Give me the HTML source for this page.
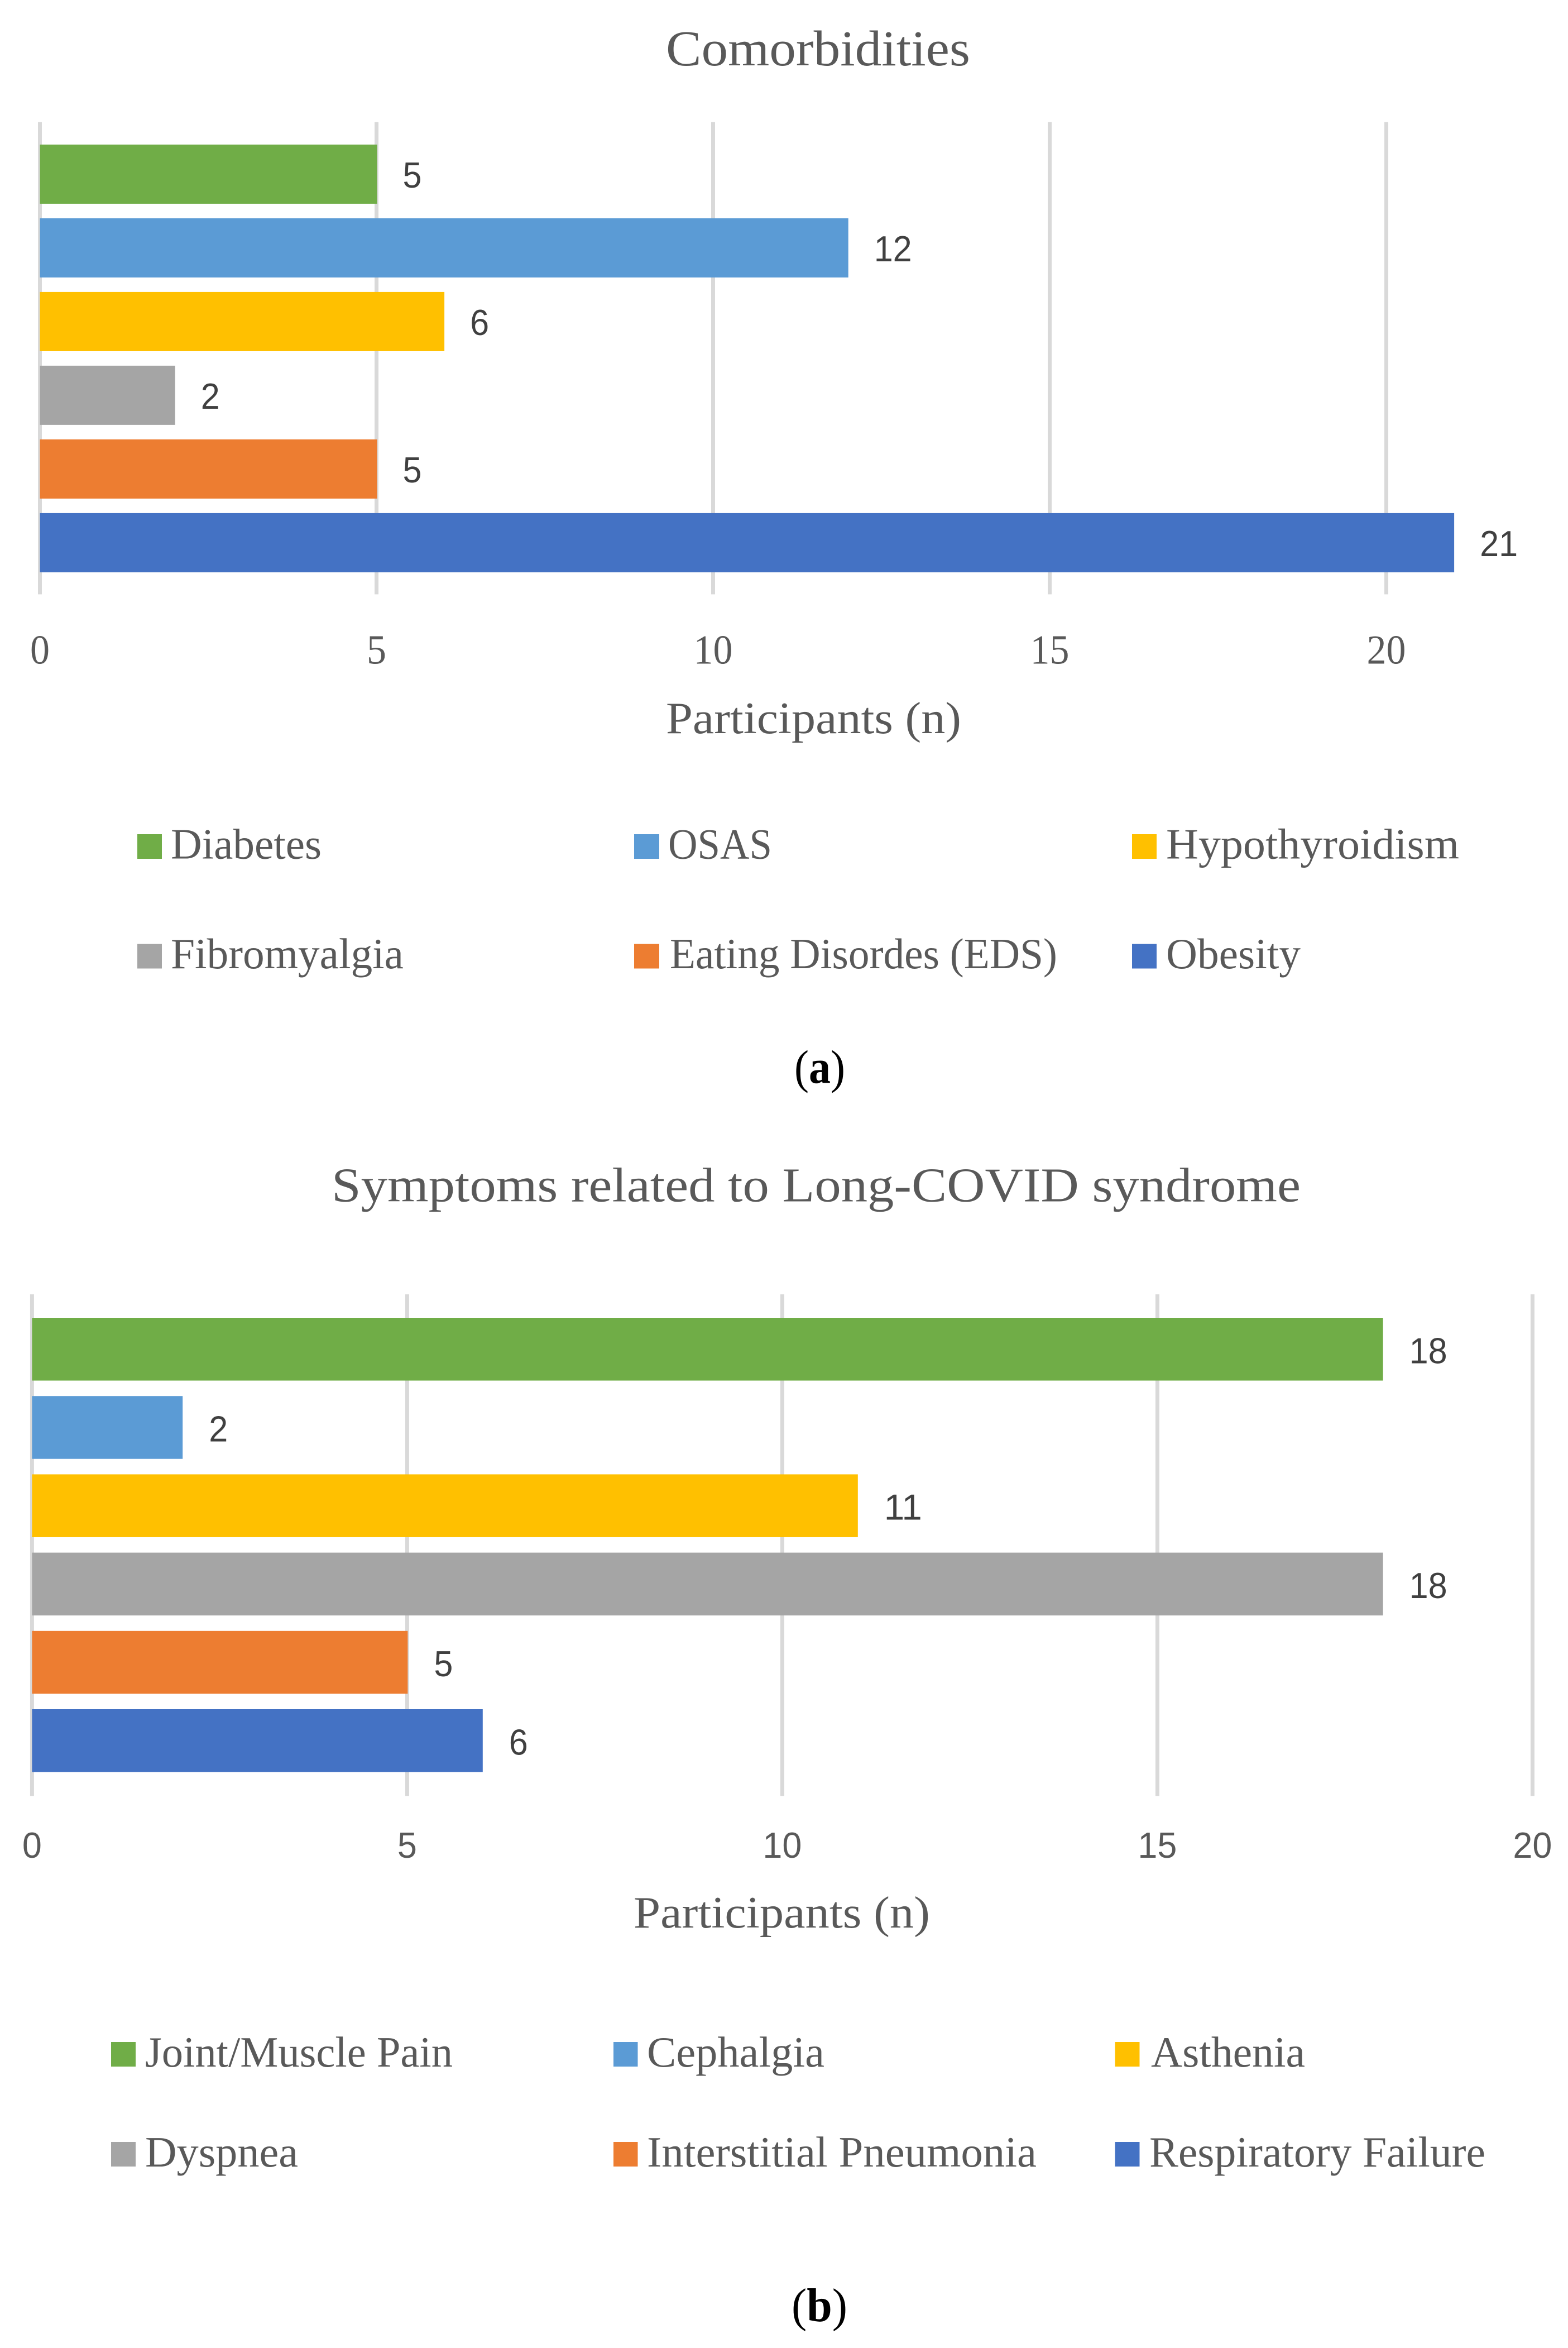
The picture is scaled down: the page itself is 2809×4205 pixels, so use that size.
<!DOCTYPE html>
<html lang="en">
<head>
<meta charset="utf-8">
<title>Comorbidities and Long-COVID symptoms</title>
<style>
html,body{margin:0;padding:0;background:#fff;}
svg{display:block;}
.serif{font-family:"Liberation Serif",serif;fill:#595959;}
.sans{font-family:"Liberation Sans",sans-serif;}
.chart-title-a{font-size:90px;}
.chart-title-b{font-size:87px;}
.axis-title{font-size:81px;}
.legend-text{font-size:77px;}
.caption{font-family:"Liberation Serif",serif;font-size:85px;fill:#000;}
</style>
</head>
<body>
<svg id="figure" xmlns="http://www.w3.org/2000/svg" width="2809" height="4205" viewBox="0 0 2809 4205">
  <rect x="0" y="0" width="2809" height="4205" fill="#ffffff"/>

  <g id="chart-a">
    <text class="serif chart-title-a" x="1193" y="117" textLength="545" lengthAdjust="spacingAndGlyphs">Comorbidities</text>
    <text class="serif axis-title" x="1193" y="1313" textLength="529" lengthAdjust="spacingAndGlyphs">Participants (n)</text>

    <g>
      <g>
        <rect x="246" y="1494" width="44" height="44" fill="#70AD47"/>
        <text class="serif legend-text" x="306" y="1537.5" textLength="270" lengthAdjust="spacingAndGlyphs">Diabetes</text>
      </g>
      <g>
        <rect x="1136" y="1494" width="45" height="44" fill="#5B9BD5"/>
        <text class="serif legend-text" x="1197" y="1537.5" textLength="186" lengthAdjust="spacingAndGlyphs">OSAS</text>
      </g>
      <g>
        <rect x="2028" y="1494" width="44" height="44" fill="#FFC000"/>
        <text class="serif legend-text" x="2089" y="1537.5" textLength="525" lengthAdjust="spacingAndGlyphs">Hypothyroidism</text>
      </g>
      <g>
        <rect x="246" y="1690.5" width="44" height="44" fill="#A5A5A5"/>
        <text class="serif legend-text" x="306" y="1734" textLength="417" lengthAdjust="spacingAndGlyphs">Fibromyalgia</text>
      </g>
      <g>
        <rect x="1136" y="1690.5" width="45" height="44" fill="#ED7D31"/>
        <text class="serif legend-text" x="1200" y="1734" textLength="694" lengthAdjust="spacingAndGlyphs">Eating Disordes (EDS)</text>
      </g>
      <g>
        <rect x="2028" y="1690.5" width="44" height="44" fill="#4472C4"/>
        <text class="serif legend-text" x="2089" y="1734" textLength="241" lengthAdjust="spacingAndGlyphs">Obesity</text>
      </g>
    </g>

    <text class="caption" x="1423" y="1939.5" textLength="91" lengthAdjust="spacingAndGlyphs">(<tspan font-weight="bold">a</tspan>)</text>
  </g>

  <g id="chart-b">
    <text class="serif chart-title-b" x="594" y="2151.5" textLength="1736" lengthAdjust="spacingAndGlyphs">Symptoms related to Long-COVID syndrome</text>
    <text class="serif axis-title" x="1135" y="3452" textLength="531" lengthAdjust="spacingAndGlyphs">Participants (n)</text>

    <g>
      <g>
        <rect x="199" y="3657" width="44" height="44" fill="#70AD47"/>
        <text class="serif legend-text" x="260" y="3701" textLength="551" lengthAdjust="spacingAndGlyphs">Joint/Muscle Pain</text>
      </g>
      <g>
        <rect x="1099" y="3657" width="43.5" height="44" fill="#5B9BD5"/>
        <text class="serif legend-text" x="1159" y="3701" textLength="318" lengthAdjust="spacingAndGlyphs">Cephalgia</text>
      </g>
      <g>
        <rect x="1997.5" y="3657" width="44" height="44" fill="#FFC000"/>
        <text class="serif legend-text" x="2062" y="3701" textLength="276" lengthAdjust="spacingAndGlyphs">Asthenia</text>
      </g>
      <g>
        <rect x="199" y="3836" width="44" height="44" fill="#A5A5A5"/>
        <text class="serif legend-text" x="260" y="3880" textLength="274" lengthAdjust="spacingAndGlyphs">Dyspnea</text>
      </g>
      <g>
        <rect x="1099" y="3836" width="43.5" height="44" fill="#ED7D31"/>
        <text class="serif legend-text" x="1159" y="3880" textLength="698" lengthAdjust="spacingAndGlyphs">Interstitial Pneumonia</text>
      </g>
      <g>
        <rect x="1997.5" y="3836" width="44" height="44" fill="#4472C4"/>
        <text class="serif legend-text" x="2059" y="3880" textLength="602" lengthAdjust="spacingAndGlyphs">Respiratory Failure</text>
      </g>
    </g>

    <text class="caption" x="1418" y="4157" textLength="100" lengthAdjust="spacingAndGlyphs">(<tspan font-weight="bold">b</tspan>)</text>
  </g>
</svg>

<script>
// Chart data (top-to-bottom bar order)
const comorbidityCategories = ["Diabetes", "OSAS", "Hypothyroidism", "Fibromyalgia", "Eating Disordes (EDS)", "Obesity"];
const comorbidityValues = [5, 12, 6, 2, 5, 21];
const comorbidityTicks = [0, 5, 10, 15, 20];

const symptomCategories = ["Joint/Muscle Pain", "Cephalgia", "Asthenia", "Dyspnea", "Interstitial Pneumonia", "Respiratory Failure"];
const symptomValues = [18, 2, 11, 18, 5, 6];
const symptomTicks = [0, 5, 10, 15, 20];

const seriesColors = ["#70AD47", "#5B9BD5", "#FFC000", "#A5A5A5", "#ED7D31", "#4472C4"];

const SVG_NS = "http://www.w3.org/2000/svg";

function linearAxis(origin, pixelsPerUnit) {
  return function (value) { return origin + value * pixelsPerUnit; };
}
function bandAxis(firstTop, pitch) {
  return function (index) { return firstTop + index * pitch; };
}

function drawChart(parentId, categories, values, ticks, layout) {
  const parent = document.getElementById(parentId);
  const x = linearAxis(layout.originX, layout.unit);
  const y = bandAxis(layout.firstBarTop, layout.barPitch);

  const gridGroup = document.createElementNS(SVG_NS, "g");
  
  
  parent.appendChild(gridGroup);

  const tickGroup = document.createElementNS(SVG_NS, "g");
  
  
  parent.appendChild(tickGroup);

  ticks.forEach(function (tick) {
    const line = document.createElementNS(SVG_NS, "rect");
    
    
    line.setAttribute("x", x(tick) - 3.5);
    line.setAttribute("y", layout.gridTop);
    line.setAttribute("width", 7);
    line.setAttribute("height", layout.gridBottom - layout.gridTop);
    line.setAttribute("fill", "#D9D9D9");
    gridGroup.appendChild(line);

    const label = document.createElementNS(SVG_NS, "text");
    
    
    label.setAttribute("x", x(tick));
    label.setAttribute("y", layout.tickBaseline);
    label.setAttribute("text-anchor", "middle");
    label.setAttribute("font-family", layout.tickFont);
    label.setAttribute("font-size", layout.tickSize);
    label.setAttribute("fill", "#595959");
    label.setAttribute("textLength", String(tick).length * layout.tickCharWidth);
    label.setAttribute("lengthAdjust", "spacingAndGlyphs");
    label.textContent = String(tick);
    tickGroup.appendChild(label);
  });

  const barGroup = document.createElementNS(SVG_NS, "g");
  
  
  parent.appendChild(barGroup);

  values.forEach(function (value, i) {
    const bar = document.createElementNS(SVG_NS, "rect");
    
    
    bar.setAttribute("data-category", categories[i]);
    bar.setAttribute("x", x(0));
    bar.setAttribute("y", y(i));
    bar.setAttribute("width", x(value) - x(0) + 1);
    bar.setAttribute("height", layout.barHeight);
    bar.setAttribute("fill", seriesColors[i]);
    barGroup.appendChild(bar);

    const valueLabel = document.createElementNS(SVG_NS, "text");
    
    
    valueLabel.setAttribute("x", x(value) + layout.labelGap);
    valueLabel.setAttribute("y", y(i) + layout.barHeight / 2 + layout.labelDrop);
    valueLabel.setAttribute("font-family", "'Liberation Sans', sans-serif");
    valueLabel.setAttribute("font-size", 65);
    valueLabel.setAttribute("fill", "#404040");
    valueLabel.setAttribute("textLength", String(value).length * 34);
    valueLabel.setAttribute("lengthAdjust", "spacingAndGlyphs");
    valueLabel.textContent = String(value);
    barGroup.appendChild(valueLabel);
  });
}

drawChart("chart-a", comorbidityCategories, comorbidityValues, comorbidityTicks, {
  originX: 71.5, unit: 120.6,
  gridTop: 218.7, gridBottom: 1064.4,
  firstBarTop: 258.9, barPitch: 132, barHeight: 106,
  labelGap: 47, labelDrop: 24,
  tickBaseline: 1188.5, tickSize: 74, tickCharWidth: 35,
  tickFont: "'Liberation Serif', serif"
});

drawChart("chart-b", symptomCategories, symptomValues, symptomTicks, {
  originX: 57.4, unit: 134.4,
  gridTop: 2318, gridBottom: 3216.3,
  firstBarTop: 2360, barPitch: 140.2, barHeight: 112.5,
  labelGap: 48, labelDrop: 25,
  tickBaseline: 3327, tickSize: 65, tickCharWidth: 35,
  tickFont: "'Liberation Sans', sans-serif"
});
</script>
</body>
</html>
